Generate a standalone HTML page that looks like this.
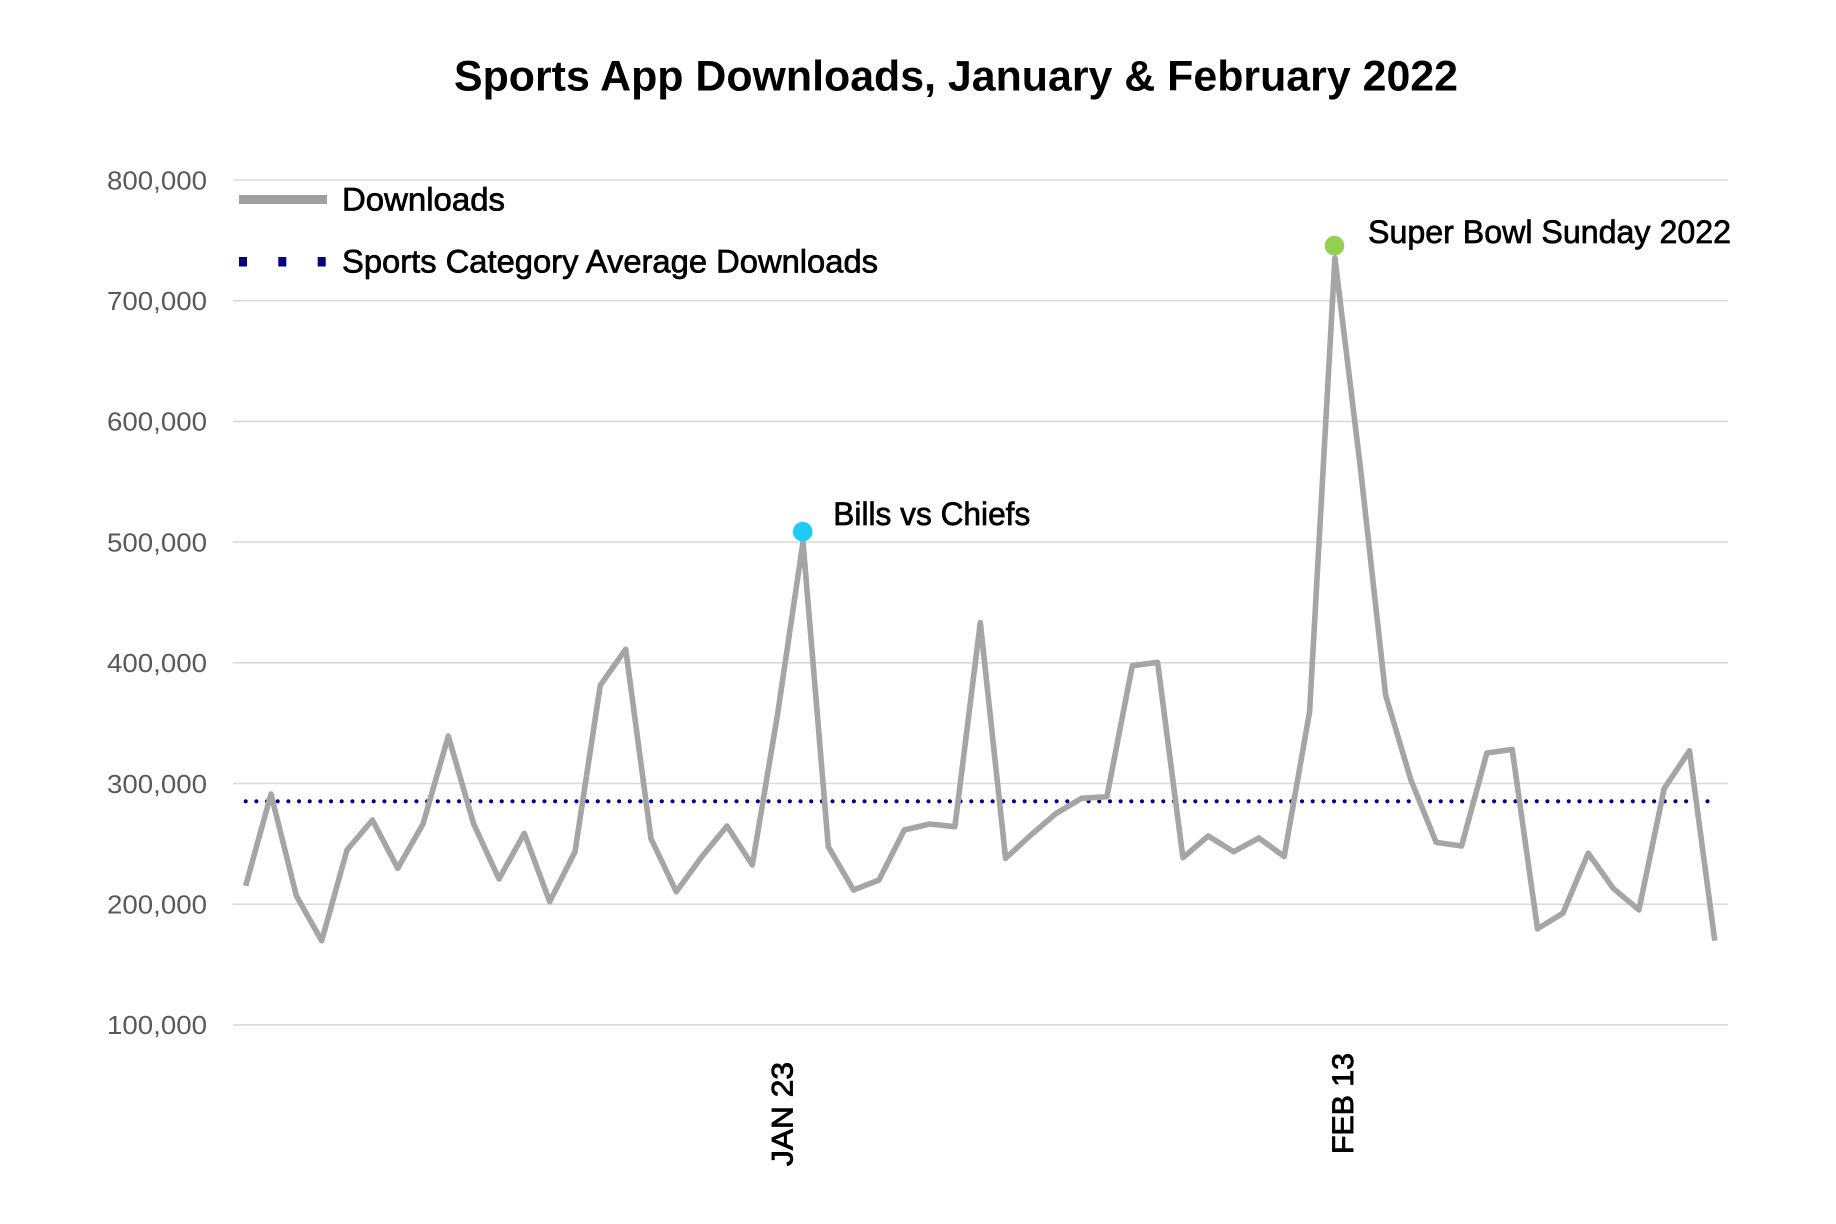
<!DOCTYPE html>
<html>
<head>
<meta charset="utf-8">
<style>
  html, body { margin: 0; padding: 0; background: #ffffff; }
  svg { display: block; }
  text { font-family: "Liberation Sans", "DejaVu Sans", sans-serif; }
</style>
</head>
<body>
<svg width="1836" height="1224" viewBox="0 0 1836 1224" xmlns="http://www.w3.org/2000/svg">
  <rect x="0" y="0" width="1836" height="1224" fill="#ffffff"/>

  <!-- Title -->
  <text x="454" y="90.7" font-size="43" font-weight="bold" fill="#000000" textLength="1004" lengthAdjust="spacingAndGlyphs">Sports App Downloads, January &amp; February 2022</text>

  <!-- Gridlines -->
  <g stroke="#d9d9d9" stroke-width="1.6">
    <line x1="233" y1="180" x2="1728" y2="180"/>
    <line x1="233" y1="300.7" x2="1728" y2="300.7"/>
    <line x1="233" y1="421.4" x2="1728" y2="421.4"/>
    <line x1="233" y1="542.1" x2="1728" y2="542.1"/>
    <line x1="233" y1="662.8" x2="1728" y2="662.8"/>
    <line x1="233" y1="783.5" x2="1728" y2="783.5"/>
    <line x1="233" y1="904.2" x2="1728" y2="904.2"/>
    <line x1="233" y1="1024.9" x2="1728" y2="1024.9"/>
  </g>

  <!-- Y axis labels -->
  <g font-size="26" fill="#595959" text-anchor="end">
    <text x="207" y="189.3" textLength="100" lengthAdjust="spacingAndGlyphs">800,000</text>
    <text x="207" y="310" textLength="100" lengthAdjust="spacingAndGlyphs">700,000</text>
    <text x="207" y="430.7" textLength="100" lengthAdjust="spacingAndGlyphs">600,000</text>
    <text x="207" y="551.4" textLength="100" lengthAdjust="spacingAndGlyphs">500,000</text>
    <text x="207" y="672.1" textLength="100" lengthAdjust="spacingAndGlyphs">400,000</text>
    <text x="207" y="792.8" textLength="100" lengthAdjust="spacingAndGlyphs">300,000</text>
    <text x="207" y="913.5" textLength="100" lengthAdjust="spacingAndGlyphs">200,000</text>
    <text x="207" y="1034.2" textLength="100" lengthAdjust="spacingAndGlyphs">100,000</text>
  </g>

  <!-- Average dotted line -->
  <line x1="245.7" y1="801.3" x2="1712" y2="801.3" stroke="#000080" stroke-width="4.2" stroke-linecap="round" stroke-dasharray="0 10.67"/>

  <!-- Downloads series -->
  <polyline fill="none" stroke="#a5a5a5" stroke-width="5.6" stroke-linejoin="round" stroke-linecap="butt"
    points="245.7,885.7 271.0,794 296.4,896 321.7,940.7 347.0,850 372.4,820 397.7,868.3 423.0,824 448.3,736 473.7,824 499.0,879 524.3,833.3 549.7,901.7 575.0,851.7 600.3,685.3 625.7,649.3 651.0,838.7 676.3,891.7 701.6,857 727.0,826 752.3,865 777.6,714 803.0,542 828.3,846.7 853.6,890 879.0,880 904.3,830 929.6,824 954.9,826.7 980.3,622.7 1005.6,858.3 1030.9,835 1056.3,813.3 1081.6,798.3 1106.9,796.7 1132.3,665.7 1157.6,662.3 1182.9,857.7 1208.2,836 1233.6,851.7 1258.9,838 1284.2,856.5 1309.6,711.6 1334.9,258 1360.2,466 1385.6,695 1410.9,780 1436.2,842.4 1461.5,846 1486.9,753 1512.2,749.4 1537.5,928.8 1562.9,913.2 1588.2,853.2 1613.5,888.6 1638.9,909.9 1664.2,788.5 1689.5,750.8 1714.8,940.6"/>

  <!-- Highlight dots -->
  <circle cx="802.7" cy="531.7" r="9.8" fill="#1fcbf5"/>
  <circle cx="1334.5" cy="245.7" r="9.8" fill="#92d050"/>

  <!-- Annotations -->
  <g fill="#000000" stroke="#000000" stroke-width="0.7">
    <text x="833.3" y="525" font-size="32" textLength="197" lengthAdjust="spacingAndGlyphs">Bills vs Chiefs</text>
    <text x="1368" y="243" font-size="32" textLength="363" lengthAdjust="spacingAndGlyphs">Super Bowl Sunday 2022</text>
  </g>

  <!-- Legend -->
  <rect x="239" y="195" width="88" height="9" fill="#a0a0a0"/>
  <rect x="239" y="257" width="8" height="9.5" fill="#000080"/>
  <rect x="278.3" y="257" width="8" height="9.5" fill="#000080"/>
  <rect x="317.7" y="257" width="8" height="9.5" fill="#000080"/>
  <g fill="#000000" stroke="#000000" stroke-width="0.7">
    <text x="342" y="210.7" font-size="32" textLength="163" lengthAdjust="spacingAndGlyphs">Downloads</text>
    <text x="342" y="272.7" font-size="32" textLength="536" lengthAdjust="spacingAndGlyphs">Sports Category Average Downloads</text>
  </g>

  <!-- X axis labels (rotated) -->
  <g fill="#000000" stroke="#000000" stroke-width="0.9">
    <text transform="translate(792.3,1166) rotate(-90)" font-size="30" textLength="104" lengthAdjust="spacingAndGlyphs">JAN 23</text>
    <text transform="translate(1353,1154) rotate(-90)" font-size="30" textLength="101" lengthAdjust="spacingAndGlyphs">FEB 13</text>
  </g>
</svg>
</body>
</html>
